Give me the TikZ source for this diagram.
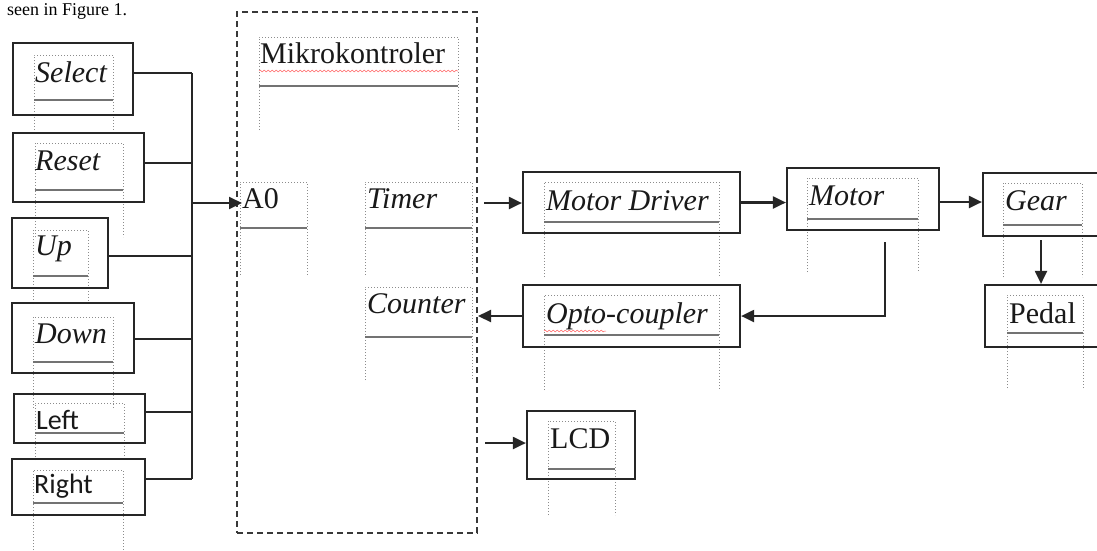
\documentclass[tikz,border=0pt]{standalone}
\usepackage{fontspec}
\setmainfont{Liberation Serif}
\newfontfamily\calfont{Carlito}
\usetikzlibrary{arrows.meta,decorations.pathmorphing,calc}
\newcommand\wframe[5]{%
  \draw[frm] (#1,#5) -- (#1,#2) -- (#3,#2) -- (#3,#5);
  \draw[frmline] (#1,#4) -- (#3,#4);}
\begin{document}
\begin{tikzpicture}[x=1pt,y=-1pt,
  obox/.style={draw=black!85, line width=2.2pt, inner sep=0pt, rectangle},
  lbl/.style={inner sep=0pt, anchor=base west, font=\fontsize{30}{31}\selectfont, text=black!90},
  slbl/.style={lbl, font=\calfont\fontsize{28}{30}\selectfont},
  wire/.style={draw=black!85, line width=2.1pt},
  arr/.style={wire, -{Triangle[length=13pt,width=12pt]}},
  frm/.style={draw=black!45, line width=1pt, dotted},
  frmline/.style={draw=black!55, line width=1.6pt},
  mcubox/.style={draw=black!78, line width=2.8pt, dash pattern=on 6pt off 4pt, inner sep=0pt, rectangle},
  squig/.style={draw=red!60, line width=0.5pt, decorate, decoration={snake, amplitude=0.9pt, segment length=4pt}}]
\useasboundingbox (0,0) rectangle (1097,550);
\clip (0,0) rectangle (1097,550);
\fill[white] (0,0) rectangle (1097,550);

% caption text at the top
\node[inner sep=0pt, anchor=base west, font=\fontsize{18}{20}\selectfont] (cap) at (7,15) {seen in Figure 1.};

% dotted text frames
\wframe{34}{55}{113}{100}{133}
\wframe{35}{143}{123}{190}{237}
\wframe{33}{230}{88}{276}{303}
\wframe{33}{317}{113}{362}{408}
\wframe{35}{403}{124}{433}{460}
\wframe{33}{470}{123}{503}{550}
\wframe{259}{37}{458}{86}{130}
\wframe{240}{182}{307}{228}{275}
\wframe{365}{182}{472}{228}{275}
\wframe{365}{287}{472}{337}{380}
\wframe{544}{182}{719}{222}{277}
\wframe{544}{295}{719}{335}{390}
\wframe{807}{178}{918}{219}{272}
\wframe{1003}{183}{1082}{225}{277}
\wframe{1007}{295}{1083}{333}{388}
\wframe{548}{421}{615}{469}{515}

% spelling squiggles
\draw[squig] (259,71) -- (458,71);
\draw[squig] (544,331) -- (606,331);

% outer boxes
\node[obox, minimum width=120pt, minimum height=72pt] (sel) at (73,79) {};
\node[obox, minimum width=131pt, minimum height=69pt] (rst) at (78.5,167.5) {};
\node[obox, minimum width=96pt, minimum height=70pt] (up) at (60,253) {};
\node[obox, minimum width=122pt, minimum height=70pt] (dwn) at (73,338) {};
\node[obox, minimum width=131pt, minimum height=49pt] (lft) at (79.5,418.5) {};
\node[obox, minimum width=133pt, minimum height=56pt] (rgt) at (78.5,487) {};
\node[mcubox, minimum width=240pt, minimum height=521pt] (mcu) at (357,272.5) {};
\node[obox, minimum width=217pt, minimum height=61pt] (md) at (631.5,202.5) {};
\node[obox, minimum width=217pt, minimum height=62pt] (opto) at (631.5,316) {};
\node[obox, minimum width=152pt, minimum height=62pt] (mot) at (863,199) {};
\node[obox, minimum width=137pt, minimum height=63pt] (gear) at (1051.5,204.5) {};
\node[obox, minimum width=135pt, minimum height=62pt] (pedal) at (1052.5,316) {};
\node[obox, minimum width=108pt, minimum height=68pt] (lcd) at (581,445) {};

% labels
\node[lbl] (tsel) at (35,82) {\textit{Select}};
\node[lbl] (trst) at (35,170) {\textit{Reset}};
\node[lbl] (tup) at (35,255) {\textit{Up}};
\node[lbl] (tdwn) at (35,343) {\textit{Down}};
\node[slbl] (tlft) at (36,429) {Left};
\node[slbl] (trgt) at (34,493) {Right};
\node[lbl] (tmcu) at (260,63) {Mikrokontroler};
\node[lbl] (ta0) at (242,208) {A0};
\node[lbl] (ttim) at (367,208) {\textit{Timer}};
\node[lbl] (tcnt) at (367,313) {\textit{Counter}};
\node[lbl] (tmd) at (546,210) {\textit{Motor Driver}};
\node[lbl] (topto) at (546,323) {\textit{Opto-coupler}};
\node[lbl] (tmot) at (809,205) {\textit{Motor}};
\node[lbl] (tgear) at (1005,210) {\textit{Gear}};
\node[lbl] (tped) at (1009,323) {Pedal};
\node[lbl] (tlcd) at (550,448) {LCD};

% input bus
\coordinate (btop) at (192,73);
\coordinate (bbot) at (192,479);
\coordinate (bmid) at (192,203);
\draw[wire] ([yshift=6pt]sel.east) -- ([yshift=6pt]sel.east -| btop);
\draw[wire] ([yshift=4.5pt]rst.east) -- ([yshift=4.5pt]rst.east -| btop);
\draw[wire] ([yshift=-3pt]up.east) -- ([yshift=-3pt]up.east -| btop);
\draw[wire] ([yshift=-1pt]dwn.east) -- ([yshift=-1pt]dwn.east -| btop);
\draw[wire] ([yshift=6.5pt]lft.east) -- ([yshift=6.5pt]lft.east -| btop);
\draw[wire] ([yshift=8pt]rgt.east) -- ([yshift=8pt]rgt.east -| btop);
\draw[wire] (btop) -- (bbot);
\draw[arr] (bmid) -- (bmid -| ta0.west);

% outputs of the microcontroller
\coordinate (tout) at (484,203);
\coordinate (cin) at (478,316);
\coordinate (lout) at (485,443);
\draw[arr] (tout) -- (tout -| md.west);
\draw[arr] (opto.west) -- (opto.west -| cin);
\draw[arr] (lout) -- (lout -| lcd.west);

% drive chain
\draw[arr] (md.east) -- (md.east -| mot.west);
\draw[arr] ([yshift=-3pt]mot.east) -- ([yshift=-3pt]mot.east -| gear.west);
\coordinate (gp) at (1041,240);
\draw[arr] (gp) -- (gp |- pedal.north);
\coordinate (mo) at (885,242);
\draw[arr] (mo) |- (opto.east);
\end{tikzpicture}
\end{document}
